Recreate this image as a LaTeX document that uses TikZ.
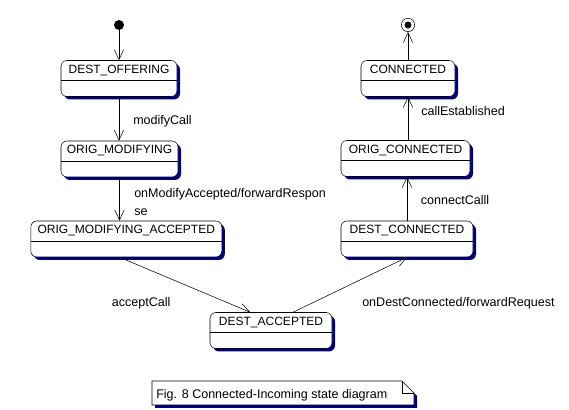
\documentclass[tikz,border=0pt]{standalone}
\usepackage{fontspec}
\setmainfont{Liberation Sans}
\usetikzlibrary{arrows.meta, positioning, calc, shadows}
\definecolor{cShadow}{RGB}{0,0,128}

\begin{document}
\begin{tikzpicture}[x=0.75pt, y=-0.75pt, font=\fontsize{9}{12}\selectfont,
            st/.style={draw, fill=white, rounded corners=4.5pt, minimum height=27pt,
                       inner ysep=0pt, text height=9.75pt, text depth=17.25pt,
                       drop shadow={shadow xshift=2.25pt, shadow yshift=-2.25pt, fill=cShadow, opacity=1},
                       path picture={\draw ([yshift=-15pt]path picture bounding box.north west)
                                        -- ([yshift=-15pt]path picture bounding box.north east);}},
            tr/.style={-{Straight Barb[length=7.5pt, width=7pt]}},
            lbl/.style={anchor=base west, inner sep=0pt, font=\fontsize{9.4}{12}\selectfont}]
            \useasboundingbox (0,0) rectangle (569,410);
            % states
            \foreach \n/\x/\y/\w/\t in {destOffering/119/78.5/116/DEST\_OFFERING,
                                        origModifying/119.5/159/117/ORIG\_MODIFYING,
                                        origModAccepted/126.3/239/191/ORIG\_MODIFYING\_ACCEPTED,
                                        destAccepted/271/330.5/122/DEST\_ACCEPTED,
                                        destConnected/407/239/132/DEST\_CONNECTED,
                                        origConnected/405.5/158.5/129/ORIG\_CONNECTED,
                                        connected/408/78.5/94/CONNECTED}{
                \node[st, minimum width=\w*0.75pt] (\n) at (\x,\y) {\t};}
            \node[circle, fill, inner sep=0pt, minimum size=7.5pt] (init) at (119,25) {};
            \node[circle, draw, inner sep=0pt, minimum size=10pt,
                  path picture={\fill (path picture bounding box.center) circle (2.6pt);}] (final) at (408,25) {};
            % transitions
            \draw[tr] (init) -- (init |- destOffering.north);
            \draw[tr] (destOffering.south) -- (destOffering.south |- origModifying.north);
            \draw[tr] (origModifying.south) -- (origModifying.south |- origModAccepted.north);
            \draw[tr] (origModAccepted.south -| origModifying.south)
                -- ($(destAccepted.north west)!0.33!(destAccepted.north east)$);
            \draw[tr] ($(destAccepted.north west)!0.68!(destAccepted.north east)$) -- (destConnected.south);
            \draw[tr] (destConnected.north) -- (destConnected.north |- origConnected.south);
            \draw[tr] (connected.south |- origConnected.north) -- (connected.south);
            \draw[tr] (connected.north) -- (final);
            \node[lbl] (lblModify) at (133,125) {modifyCall};
            \node[lbl, anchor=north west, align=left] (lblModAcc) at (134,188)
                {onModifyAccepted/forwardRespon\\[1.5pt]se};
            \node[lbl] (lblAccept) at (111.7,307) {acceptCall};
            \node[lbl] (lblDestCon) at (362,307) {onDestConnected/forwardRequest};
            \node[lbl] (lblConnect) at (420.7,205) {connectCalll};
            \node[lbl] (lblEstab) at (421,116) {callEstablished};
            % caption note
            \coordinate (noteNW) at (152,381);
            \coordinate (noteSE) at (414,405);
            \fill[cShadow, transform canvas={xshift=2.25pt, yshift=-2.25pt}] (noteNW)
                -- ($(noteNW -| noteSE)+(-12,0)$) -- ($(noteNW -| noteSE)+(0,12)$)
                -- (noteSE) -- (noteNW |- noteSE) -- cycle;
            \draw[fill=white] (noteNW) -- ($(noteNW -| noteSE)+(-12,0)$) -- ($(noteNW -| noteSE)+(0,12)$)
                -- (noteSE) -- (noteNW |- noteSE) -- cycle;
            \draw ($(noteNW -| noteSE)+(-12,0)$) -- ++(0,12) -- ++(12,0);
            \node[lbl] (caption) at (156,398) {Fig. 8 Connected-Incoming state diagram};
        \end{tikzpicture}
\end{document}
